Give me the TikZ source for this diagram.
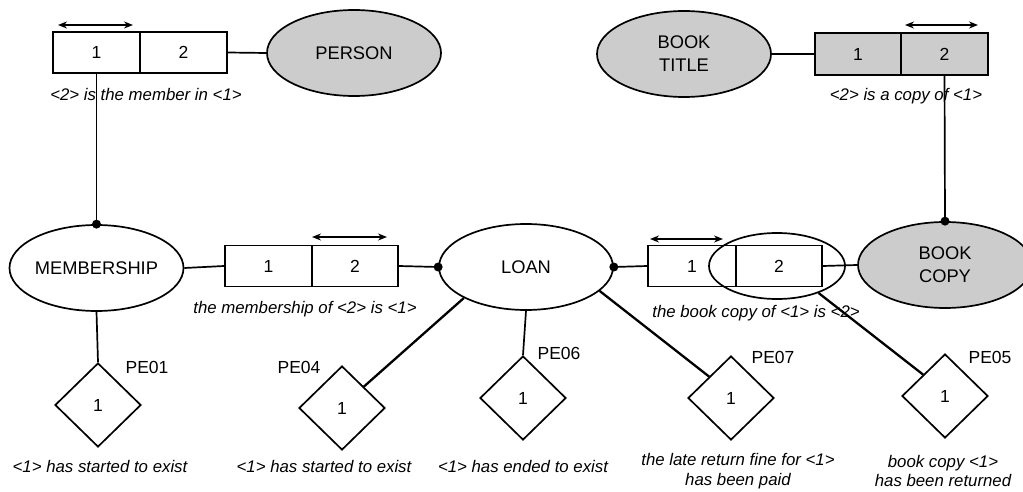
\documentclass[tikz,border=0pt]{standalone}
\usepackage{fontspec}
\setmainfont{Liberation Sans}
\usetikzlibrary{shapes.geometric,arrows.meta}
\definecolor{fillgray}{RGB}{204,204,204}
\begin{document}
\begin{tikzpicture}[x=1pt,y=-1pt,line width=1.7pt,
  cell/.style={draw,minimum width=87pt,minimum height=41pt,inner sep=0pt,font=\fontsize{17.5}{20}\selectfont},
  ent/.style={draw,ellipse,minimum width=174pt,minimum height=86pt,inner sep=0pt,align=center,font=\fontsize{18.3}{23}\selectfont},
  ev/.style={draw,diamond,minimum width=86pt,minimum height=84pt,inner sep=0pt,font=\fontsize{17.5}{20}\selectfont},
  lbl/.style={font=\fontsize{17.5}{20}\selectfont,inner sep=0pt},
  captext/.style={font=\fontsize{16.8}{19.5}\selectfont\itshape,align=center,inner sep=0pt},
  conn/.style={line width=1.7pt},
  diag/.style={line width=2.3pt},
  dotmark/.style={fill,circle,inner sep=0pt,minimum size=9pt},
  rolearrow/.style={{Stealth[length=9pt,width=7pt]}-{Stealth[length=9pt,width=7pt]},line width=1.5pt}
]
\useasboundingbox (0,0) rectangle (1023,492);

% top-left fact type
\node[cell] (a1) at (96.5,52.5) {1};
\node[cell] (a2) at (183.5,52.5) {2};
\node[ent,fill=fillgray] (person) at (354,53) {PERSON};
\node[captext] (capa) at (146,94) {<2> is the member in <1>};
\coordinate (ra1) at (58,25);
\coordinate (ra2) at (133,25);
\draw[rolearrow] (ra1) -- (ra2);

% top-right fact type
\node[ent,fill=fillgray] (title) at (684,54) {BOOK\\TITLE};
\node[cell,fill=fillgray,minimum width=86pt,minimum height=42pt] (b1) at (858,54) {1};
\node[cell,fill=fillgray,minimum height=42pt] (b2) at (944.5,54) {2};
\node[captext] (capb) at (906,96) {<2> is a copy of <1>};
\coordinate (rb1) at (905,25);
\coordinate (rb2) at (978,25);
\draw[rolearrow] (rb1) -- (rb2);

% middle row
\node[ent] (memb) at (96.5,268) {MEMBERSHIP};
\node[cell] (c1) at (268.5,266) {1};
\node[cell,minimum width=86pt] (c2) at (355,266) {2};
\node[captext] (capc) at (305,309) {the membership of <2> is <1>};
\coordinate (rc1) at (312,237);
\coordinate (rc2) at (387,237);
\draw[rolearrow] (rc1) -- (rc2);

\node[ent] (loan) at (526,267) {LOAN};
\node[cell,minimum width=88pt] (d1) at (692,266) {1};
\node[cell,minimum width=86pt] (d2) at (779,266) {2};
\node[draw,ellipse,minimum width=136pt,minimum height=66pt,inner sep=0pt] (obj) at (777,266) {};
\node[captext] (capd) at (756,313) {the book copy of <1> is <2>};
\coordinate (rd1) at (650,239);
\coordinate (rd2) at (723,239);
\draw[rolearrow] (rd1) -- (rd2);

\node[ent,fill=fillgray] (copy) at (945,265) {BOOK\\COPY};

% events
\node[ev] (pe01) at (98,405) {1};
\node[ev] (pe04) at (342,408) {1};
\node[ev] (pe06) at (523,398) {1};
\node[ev] (pe07) at (731,398) {1};
\node[ev] (pe05) at (945,396) {1};

\node[lbl] (l01) at (147,367) {PE01};
\node[lbl] (l04) at (299,367) {PE04};
\node[lbl] (l06) at (559,353) {PE06};
\node[lbl] (l07) at (773,357) {PE07};
\node[lbl] (l05) at (990,357) {PE05};

\node[captext] (e01) at (100,466) {<1> has started to exist};
\node[captext] (e04) at (324,466) {<1> has started to exist};
\node[captext] (e06) at (523,466) {<1> has ended to exist};
\node[captext] (e07) at (738,471) {the late return fine for <1>\\has been paid};
\node[captext] (e05) at (943,471) {book copy <1>\\has been returned};

% connectors
\draw[conn] (a2.east) -- (person.west);
\draw[conn] (a1.south) -- (memb.north);
\node[dotmark] (dm) at (memb.north) {};
\draw[conn] (title.east) -- (b1.west);
\draw[conn] (b2.south) -- (copy.north);
\node[dotmark] (dc) at (copy.north) {};
\draw[conn] (memb.east) -- (c1.west);
\draw[conn] (c2.east) -- (loan.west);
\node[dotmark] (dl1) at (loan.west) {};
\draw[conn] (loan.east) -- (d1.west);
\node[dotmark] (dl2) at (loan.east) {};
\draw[conn] (d2.east) -- (copy.west);

\draw[conn] (memb.south) -- (pe01.north);
\draw[conn] (loan.south) -- (pe06.north);
\draw[diag] (loan.south west) -- (pe04.north east);
\draw[diag] (loan.-18) -- (pe07.north west);
\draw[diag] (obj.-33) -- (pe05.north west);
\end{tikzpicture}
\end{document}
